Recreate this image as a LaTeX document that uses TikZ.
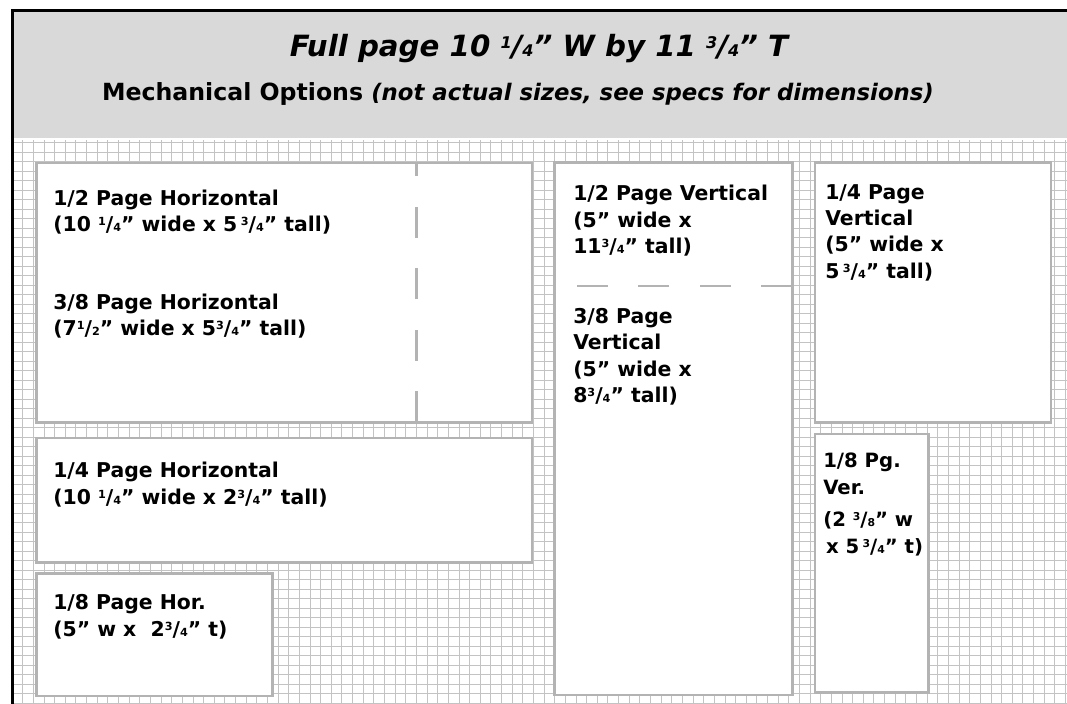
\documentclass[tikz,border=0pt]{standalone}
\usepackage{fontspec}
\setmainfont{DejaVu Sans}
\definecolor{headgray}{RGB}{217,217,217}
\definecolor{boxgray}{RGB}{179,179,179}
\definecolor{gridgray}{RGB}{195,195,195}
\newcommand\frc[2]{\raisebox{.55ex}{\scalebox{.55}{#1}}/\scalebox{.55}{#2}}

\begin{document}
\begin{tikzpicture}[x=0.025cm,y=-0.025cm]
% Estilos
\tikzset{ad box/.style={draw=boxgray,line width=2.1pt,fill=white},
  cut line/.style={draw=boxgray,line width=2pt,dash pattern=on 22pt off 21.8pt},
  ad label/.style={anchor=base west,align=left,inner sep=0pt,font=\fontsize{14.5}{18.7}\selectfont\bfseries}}

\useasboundingbox (0,0) rectangle (1067,704);
\fill[white] (0,0) rectangle (1067,704);

% Grade
\foreach \x in {0,...,98}
    \draw[gridgray,line width=.6pt] (22.7+\x*10.64,140) -- (22.7+\x*10.64,704);
\foreach \y in {0,...,59}
    \draw[gridgray,line width=.6pt] (13,142.7+\y*9.5) -- (1067,142.7+\y*9.5);

% Cabecalho
\fill[headgray] (13,11) rectangle (1067,138);
\draw[line width=1.8pt] (1067,10.5) -- (12.3,10.5) -- (12.3,704);

\node[anchor=base,inner sep=0pt,font=\fontsize{20.8}{25}\selectfont\bfseries\itshape] (title) at (539,56.8) {Full page 10 \frc14” W by 11 \frc34” T};
\node[anchor=base,inner sep=0pt,font=\fontsize{16.8}{20}\selectfont\bfseries] (subtitle) at (518,100) {Mechanical Options {\fontsize{16.2}{18}\selectfont\itshape (not actual sizes, see specs for dimensions)}};

% Anuncios
\draw[ad box] (36.5,163) rectangle (532,422.3);
\draw[ad box] (36.5,438) rectangle (532,562.5);
\draw[ad box] (36.5,573.5) rectangle (272.5,696);
\draw[ad box] (554.5,162.5) rectangle (792.3,695);
\draw[ad box] (815,162.5) rectangle (1051,422.5);
\draw[ad box] (815,434) rectangle (928.5,692.7);

\draw[cut line] (416.7,422.3) -- (416.7,163);
\draw[cut line] (792.3,286) -- (577,286);

% base = ultima linha
\node[ad label] (halfhor) at (53,231.8) {1/2 Page Horizontal\\(10 \frc14” wide x 5\,\frc34” tall)};
\node[ad label] (threehor) at (53,335.4) {3/8 Page Horizontal\\(7\frc12” wide x 5\frc34” tall)};
\node[ad label] (quarthor) at (53,504.2) {1/4 Page Horizontal\\(10 \frc14” wide x 2\frc34” tall)};
\node[ad label] (eighthor) at (53,636.2) {1/8 Page Hor.\\(5” w x\ \ 2\frc34” t)};
\node[ad label] (halfver) at (573,253.5) {1/2 Page Vertical\\(5” wide x\\11\frc34” tall)};
\node[ad label] (threever) at (573,402.5) {3/8 Page\\Vertical\\(5” wide x\\8\frc34” tall)};
\node[ad label] (quartver) at (825,278.2) {1/4 Page\\Vertical\\(5” wide x\\5\,\frc34” tall)};
\node[ad label,font=\fontsize{14}{18.7}\selectfont\bfseries] (eighthver) at (823,553.3) {1/8 Pg.\\[.6pt]Ver.\\[4pt](2 \frc38” w\\[.6pt]\kern2pt x 5\,\frc34” t)};

\end{tikzpicture}
\end{document}
